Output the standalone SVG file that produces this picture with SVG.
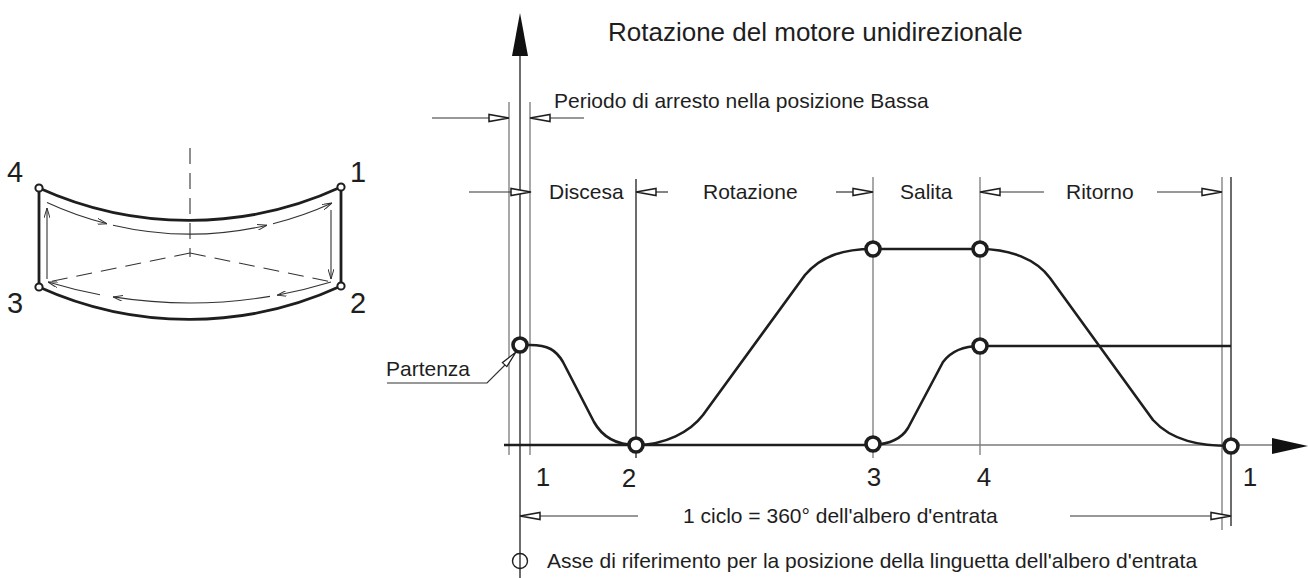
<svg xmlns="http://www.w3.org/2000/svg" xmlns:xlink="http://www.w3.org/1999/xlink" width="1308" height="578" viewBox="0 0 1308 578">
<style>
text{font-family:"Liberation Sans",Arial,sans-serif;fill:#1e1e1e}
.t{font-size:21px}
.title{font-size:26px}
.num{font-size:26px}
.big{font-size:29px}
.g{stroke:#7a7a7a;stroke-width:1.3;fill:none}
.k{stroke:#1e1e1e;stroke-width:1.3;fill:none}
.dim{stroke:#333;stroke-width:1.2;fill:none}
.cv{stroke:#1e1e1e;stroke-width:2.6;fill:none;stroke-linejoin:round}
.pt{fill:#fff;stroke:#1e1e1e;stroke-width:3.6}
.sh{stroke:#1e1e1e;stroke-width:2.8;fill:none}
.th{stroke:#333;stroke-width:1.1;fill:none}
.da{stroke:#333;stroke-width:1.1;fill:none;stroke-dasharray:16 9}
</style>
<defs>
<path id="ar" d="M0,0 L-20,-3.5 L-20,3.5 Z" fill="#fff" stroke="#1e1e1e" stroke-width="1.5" stroke-linejoin="miter"/>
<marker id="oa" viewBox="0 0 10 6" refX="10" refY="3" markerWidth="10" markerHeight="6" markerUnits="userSpaceOnUse" orient="auto">
<path d="M0,0 L10,3 L0,6" fill="none" stroke="#333" stroke-width="1"/>
</marker>
</defs>

<g id="left-diagram">
<line class="da" x1="190" y1="148" x2="190" y2="257" stroke-dasharray="22 9"/>
<path class="da" d="M190,253 L48,282"/>
<path class="da" d="M190,253 L332,282"/>
<path class="sh" d="M39,188 A363,363 0 0 0 341,187"/>
<path class="sh" d="M39,287 A363,363 0 0 0 341,286"/>
<path class="sh" d="M39,188 L39,287"/>
<path class="sh" d="M341,187 L341,286"/>
<g marker-end="url(#oa)" class="th">
<path d="M47,202.5 A340,340 0 0 0 107,223.7"/>
<path d="M113,225.2 A340,340 0 0 0 267,225.2"/>
<path d="M273,223.7 A340,340 0 0 0 332,203"/>
<path d="M331,210 L331,279"/>
<path d="M331,282 A490,490 0 0 1 277,295.2"/>
<path d="M270,296.4 A490,490 0 0 1 113,296.9"/>
<path d="M100,294.7 A490,490 0 0 1 48,282"/>
<path d="M47,279 L47,208"/>
</g>
<circle cx="39" cy="188" r="3.6" fill="#fff" stroke="#1e1e1e" stroke-width="2"/>
<circle cx="341" cy="187" r="3.6" fill="#fff" stroke="#1e1e1e" stroke-width="2"/>
<circle cx="39" cy="287" r="3.6" fill="#fff" stroke="#1e1e1e" stroke-width="2"/>
<circle cx="341" cy="286" r="3.6" fill="#fff" stroke="#1e1e1e" stroke-width="2"/>
<text class="big" x="7" y="182">4</text>
<text class="big" x="350" y="182">1</text>
<text class="big" x="7" y="313">3</text>
<text class="big" x="350" y="313">2</text>
</g>

<g id="axes">
<line class="k" x1="520" y1="55" x2="520" y2="578"/>
<path d="M520,13 L528,56 L512,56 Z" fill="#111"/>
<line class="g" x1="504" y1="445" x2="1274" y2="445"/>
<path d="M1272,438 L1308,446 L1272,454 Z" fill="#111"/>
</g>

<g id="guides">
<line class="g" x1="509" y1="102" x2="509" y2="455"/>
<line class="g" x1="530" y1="102" x2="530" y2="455"/>
<line class="k" x1="636" y1="179" x2="636" y2="458"/>
<line class="g" x1="873" y1="177" x2="873" y2="458"/>
<line class="g" x1="980" y1="177" x2="980" y2="455"/>
<line class="g" x1="1222" y1="177" x2="1222" y2="530"/>
<line class="k" x1="1231" y1="177" x2="1231" y2="526"/>
</g>

<g id="connectors">
<line class="dim" x1="432" y1="118" x2="490" y2="118"/>
<use xlink:href="#ar" transform="translate(509,118)"/>
<line class="dim" x1="549" y1="118" x2="584" y2="118"/>
<use xlink:href="#ar" transform="translate(530,118) rotate(180)"/>

<line class="dim" x1="469" y1="192" x2="512" y2="192"/>
<use xlink:href="#ar" transform="translate(531,192)"/>
<line class="dim" x1="655" y1="192" x2="668" y2="192"/>
<use xlink:href="#ar" transform="translate(636,192) rotate(180)"/>
<line class="dim" x1="836" y1="192" x2="854" y2="192"/>
<use xlink:href="#ar" transform="translate(873,192)"/>
<line class="dim" x1="999" y1="192" x2="1044" y2="192"/>
<use xlink:href="#ar" transform="translate(980,192) rotate(180)"/>
<line class="dim" x1="1157" y1="192" x2="1203" y2="192"/>
<use xlink:href="#ar" transform="translate(1222,192)"/>

<line class="dim" x1="539" y1="516" x2="638" y2="516"/>
<use xlink:href="#ar" transform="translate(520,516) rotate(180)"/>
<line class="dim" x1="1070" y1="516" x2="1212" y2="516"/>
<use xlink:href="#ar" transform="translate(1231,516)"/>

<path class="dim" d="M387,383 L487,383 L505,365"/>
<use xlink:href="#ar" transform="translate(516,352) rotate(-48) scale(0.85)"/>
</g>

<g id="curves">
<path class="cv" d="M504,445 L873,445"/>
<path class="cv" d="M520,345 L530,345 C548,345 556,350 563,362 L594,422 C603,438 618,445 636,445"/>
<path class="cv" d="M636,445 C665,445 690,432 703,415 L805,275 C822,255 845,249 873,249 L980,249"/>
<path class="cv" d="M980,249 C1010,249 1036,259 1050,278 L1153,420 C1172,441 1200,446 1231,446"/>
<path class="cv" d="M873,445 C890,444 902,438 908,428 L943,362 C952,350 965,346 980,346 L1231,346"/>
</g>

<g id="points">
<circle class="pt" cx="520" cy="345" r="7"/>
<circle class="pt" cx="636" cy="445" r="7"/>
<circle class="pt" cx="873" cy="249" r="7"/>
<circle class="pt" cx="980" cy="249" r="7"/>
<circle class="pt" cx="980" cy="346" r="7"/>
<circle class="pt" cx="873" cy="444" r="7"/>
<circle class="pt" cx="1231" cy="446" r="7"/>
</g>

<g id="labels">
<text class="title" x="608" y="41">Rotazione del motore unidirezionale</text>
<text class="t" x="554" y="108">Periodo di arresto nella posizione Bassa</text>
<text class="t" x="549" y="199">Discesa</text>
<text class="t" x="703" y="199">Rotazione</text>
<text class="t" x="900" y="199">Salita</text>
<text class="t" x="1066" y="199">Ritorno</text>
<text class="t" x="386" y="376">Partenza</text>
<text class="num" x="543" y="486" text-anchor="middle">1</text>
<text class="num" x="629" y="487" text-anchor="middle">2</text>
<text class="num" x="874" y="486" text-anchor="middle">3</text>
<text class="num" x="984" y="486" text-anchor="middle">4</text>
<text class="num" x="1250" y="486" text-anchor="middle">1</text>
<text class="t" x="683" y="523">1 ciclo = 360° dell'albero d'entrata</text>
</g>

<g id="legend">
<circle cx="520" cy="561" r="7.5" fill="none" stroke="#1e1e1e" stroke-width="1.4"/>
<text class="t" x="547" y="568">Asse di riferimento per la posizione della linguetta dell'albero d'entrata</text>
</g>
</svg>
